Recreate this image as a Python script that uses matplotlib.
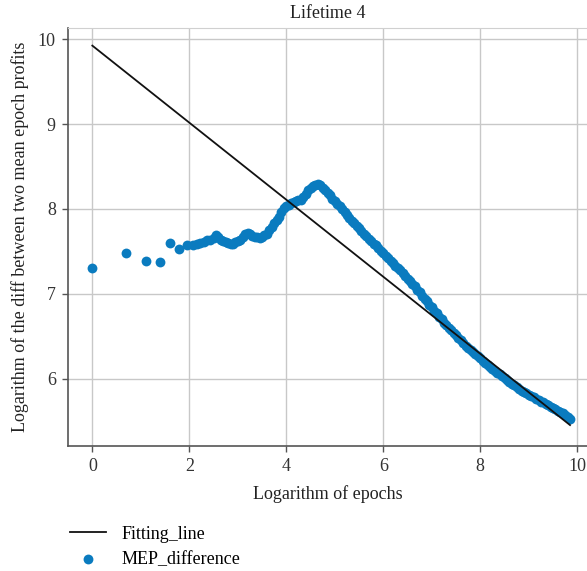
import matplotlib
matplotlib.use("Agg")
import matplotlib.pyplot as plt
import numpy as np

# log(epochs) and log(diff between two mean epoch profits)
log_epochs = [0.00, 0.69, 1.10, 1.39, 1.61, 1.79, 1.95, 2.08, 2.15, 2.22,
              2.30, 2.36, 2.43, 2.50, 2.55, 2.60, 2.65, 2.70, 2.75, 2.80,
              2.85, 2.90, 2.95, 3.00, 3.05, 3.10, 3.15, 3.20, 3.25, 3.30,
              3.35, 3.40, 3.45, 3.50, 3.55, 3.60, 3.65, 3.70, 3.75, 3.80,
              3.85, 3.90, 3.95, 4.00, 4.05, 4.10, 4.15, 4.20, 4.25, 4.30,
              4.35, 4.40, 4.45, 4.50, 4.55, 4.60, 4.65, 4.70, 4.75, 4.80,
              4.85, 4.90, 4.95, 5.00, 5.05, 5.10, 5.15, 5.20, 5.25, 5.30,
              5.35, 5.40, 5.45, 5.50, 5.55, 5.60, 5.65, 5.70, 5.75, 5.80,
              5.85, 5.90, 5.95, 6.00, 6.05, 6.10, 6.15, 6.20, 6.25, 6.30,
              6.35, 6.40, 6.45, 6.50, 6.55, 6.60, 6.65, 6.70, 6.75, 6.80,
              6.85, 6.90, 6.95, 7.00, 7.05, 7.10, 7.15, 7.20, 7.25, 7.30,
              7.35, 7.40, 7.45, 7.50, 7.55, 7.60, 7.65, 7.70, 7.75, 7.80,
              7.85, 7.90, 7.95, 8.00, 8.05, 8.10, 8.15, 8.20, 8.25, 8.30,
              8.35, 8.40, 8.45, 8.50, 8.55, 8.60, 8.65, 8.70, 8.75, 8.80,
              8.85, 8.90, 8.95, 9.00, 9.05, 9.10, 9.15, 9.20, 9.25, 9.30,
              9.35, 9.40, 9.45, 9.50, 9.55, 9.60, 9.65, 9.70, 9.75, 9.80,
              9.85]
mep_diff = [7.31, 7.48, 7.39, 7.38, 7.60, 7.53, 7.58, 7.57, 7.59, 7.60,
            7.61, 7.63, 7.64, 7.66, 7.69, 7.67, 7.64, 7.62, 7.61, 7.60,
            7.59, 7.59, 7.61, 7.62, 7.64, 7.67, 7.70, 7.72, 7.70, 7.68,
            7.67, 7.67, 7.66, 7.67, 7.69, 7.71, 7.75, 7.79, 7.84, 7.87,
            7.91, 7.97, 8.01, 8.04, 8.05, 8.07, 8.08, 8.09, 8.10, 8.11,
            8.14, 8.18, 8.22, 8.25, 8.27, 8.28, 8.29, 8.28, 8.25, 8.22,
            8.19, 8.16, 8.12, 8.09, 8.06, 8.03, 8.00, 7.96, 7.93, 7.89,
            7.86, 7.83, 7.80, 7.77, 7.74, 7.71, 7.68, 7.65, 7.62, 7.59,
            7.57, 7.54, 7.51, 7.48, 7.45, 7.42, 7.39, 7.36, 7.33, 7.31,
            7.28, 7.24, 7.21, 7.18, 7.15, 7.12, 7.09, 7.05, 7.02, 6.98,
            6.94, 6.91, 6.87, 6.84, 6.80, 6.77, 6.73, 6.70, 6.66, 6.63,
            6.60, 6.57, 6.54, 6.51, 6.48, 6.45, 6.42, 6.39, 6.36, 6.34,
            6.31, 6.29, 6.27, 6.24, 6.21, 6.19, 6.16, 6.14, 6.11, 6.09,
            6.07, 6.05, 6.03, 6.01, 5.98, 5.96, 5.94, 5.92, 5.90, 5.88,
            5.86, 5.84, 5.83, 5.81, 5.79, 5.78, 5.76, 5.75, 5.73, 5.72,
            5.70, 5.69, 5.67, 5.66, 5.64, 5.62, 5.61, 5.59, 5.57, 5.55,
            5.53]

# fitted line y = intercept + slope * x
fit_intercept = 9.925
fit_slope = -0.454

plt.rcParams['font.family'] = ['Liberation Serif', 'DejaVu Serif']

fig = plt.figure(figsize=(5.87, 5.71), dpi=100)
ax = fig.add_axes([0.1164, 0.219, 0.8836, 0.732])

xfit = np.array([log_epochs[0], log_epochs[-1]])
ax.plot(xfit, fit_intercept + fit_slope * xfit, color='#111111', lw=1.3,
        label='Fitting_line', zorder=3)
ax.scatter(log_epochs, mep_diff, s=50, color='#0a7bbf', linewidths=0,
           label='MEP_difference', zorder=2)

ax.set_xlim(-0.495, 10.2)
ax.set_ylim(5.207, 10.133)
ax.set_xticks([0, 2, 4, 6, 8, 10])
ax.set_yticks([6, 7, 8, 9, 10])
ax.grid(True, color='#c8c8c8', lw=1.0)
ax.set_axisbelow(True)

for s in ['left', 'bottom']:
    ax.spines[s].set_color('#555555')
    ax.spines[s].set_linewidth(1.2)
ax.spines['top'].set_color('#d0d0d0')
ax.spines['right'].set_visible(False)
ax.tick_params(colors='#555555', labelcolor='#333333', labelsize=13,
               length=4, width=1.0, pad=5)

ax.set_title('Lifetime 4', fontsize=13, color='#222222', pad=7)
ax.set_xlabel('Logarithm of epochs', fontsize=13, color='#222222', labelpad=7)
ax.set_ylabel('Logarithm of the diff between two mean epoch profits',
              fontsize=13, color='#222222', labelpad=6)

fig.legend(loc='upper left', bbox_to_anchor=(0.107, 0.092), frameon=False,
           fontsize=13, handlelength=2.0, labelspacing=0.45,
           handletextpad=0.85, borderaxespad=0)

fig.savefig('out.png', dpi=100)
